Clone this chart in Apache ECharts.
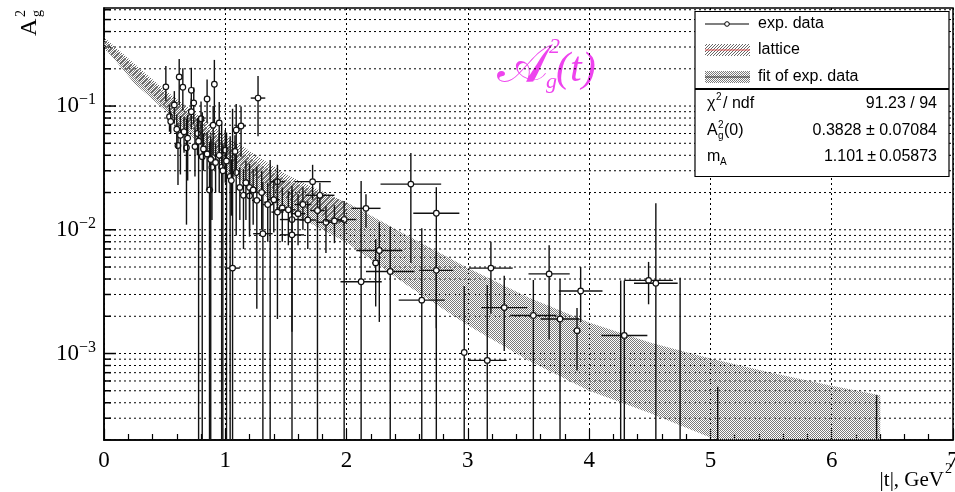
<!DOCTYPE html>
<html>
<head>
<meta charset="utf-8">
<script src="https://cdn.jsdelivr.net/npm/echarts@6/dist/echarts.min.js"></script>
<style>
  html, body { margin: 0; padding: 0; background: #fff; }
  #chart { width: 955px; height: 492px; }
</style>
</head>
<body>
<div id="chart"></div>
<script>
// exp. data: |t|, value, |t| half-width, lower and upper error
const expT = [0.51, 0.62, 0.65, 0.72, 0.91, 0.85, 0.58, 0.74, 0.80, 0.72, 0.90, 0.95, 1.09, 1.13, 0.54, 0.61,
  0.68, 0.77, 0.81, 0.87, 0.89, 1.00, 0.97, 1.04, 1.09, 1.15, 1.20, 1.26, 1.08, 1.27, 1.43, 1.72,
  1.78, 1.76, 1.43, 1.55, 1.31, 1.55, 1.98, 1.37, 1.20, 1.06, 2.16, 2.12, 2.27, 2.24, 2.36, 2.53,
  2.74, 2.74, 2.62, 2.97, 3.16, 3.19, 3.30, 3.54, 3.67, 3.76, 3.93, 3.90, 4.29, 4.26, 4.49, 4.55,
  4.75, 5.06, 6.37, 0.55, 0.60, 0.63, 0.66, 0.69, 0.75, 0.78, 0.82, 0.85, 0.88, 0.92, 0.95, 0.98,
  1.01, 1.05, 1.12, 1.17, 1.23, 1.30, 1.35, 1.40, 1.47, 1.52, 1.60, 1.64, 1.68, 1.83, 1.90]
const expA = [0.143, 0.172, 0.142, 0.134, 0.150, 0.114, 0.102, 0.106, 0.079, 0.090, 0.070, 0.073, 0.064, 0.069, 0.082, 0.048,
  0.046, 0.060, 0.039, 0.021, 0.032, 0.044, 0.032, 0.027, 0.029, 0.019, 0.0188, 0.0173, 0.043, 0.116, 0.0245, 0.0245,
  0.019, 0.0143, 0.0139, 0.0121, 0.0093, 0.0091, 0.0121, 0.0167, 0.022, 0.0049, 0.0149, 0.0038, 0.0068, 0.0054, 0.0046, 0.0234,
  0.0136, 0.0047, 0.0027, 0.00102, 0.00088, 0.0049, 0.00235, 0.00203, 0.0044, 0.0019, 0.0032, 0.00153, 0.0014, -0.0004, 0.0039, 0.0037,
  -0.0005, -0.0002, -0.0002, 0.075, 0.065, 0.058, 0.062, 0.055, 0.047, 0.052, 0.045, 0.041, 0.037, 0.035, 0.040, 0.030,
  0.036, 0.025, 0.022, 0.024, 0.021, 0.020, 0.016, 0.0175, 0.015, 0.0145, 0.0135, 0.016, 0.012, 0.0115, 0.0118]
const expTErr = [0.02, 0.02, 0.02, 0.02, 0.02, 0.02, 0.02, 0.02, 0.02, 0.02, 0.02, 0.02, 0.03, 0.04, 0.02, 0.02,
  0.02, 0.02, 0.02, 0.03, 0.02, 0.02, 0.02, 0.02, 0.02, 0.03, 0.03, 0.04, 0.02, 0.06, 0.06, 0.15,
  0.12, 0.06, 0.05, 0.10, 0.08, 0.10, 0.10, 0.05, 0.03, 0.06, 0.12, 0.17, 0.19, 0.03, 0.20, 0.25,
  0.19, 0.14, 0.19, 0.02, 0.16, 0.18, 0.19, 0.19, 0.17, 0.16, 0.18, 0.03, 0.19, 0, 0.20, 0.18,
  0, 0, 0, 0.02, 0.02, 0.02, 0.02, 0.02, 0.02, 0.02, 0.02, 0.02, 0.02, 0.02, 0.02, 0.02,
  0.02, 0.02, 0.03, 0.03, 0.03, 0.04, 0.04, 0.05, 0.05, 0.06, 0.06, 0.07, 0.07, 0.08, 0.08]
const expAErrLo = [0.033, 0.07, 0.05, 0.057, 0.077, 0.041, 0.03, 0.035, 0.03, 0.025, 0.03, 0.035, 0.035, 0.03, 0.02, 0.025,
  0.035, 0.02, 0.05, 0.03, 0.02, 0.02, 0.04, 0.03, 0.02, 0.012, 0.01, 0.015, 0.015, 0.059, 0.009, 0.007,
  0.005, 0.02, 0.012, 0.0106, 0.015, 0.012, 0.02, 0.02, 0.012, 0.09, 0.0045, 0.021, 0.005, 0.003, 0.007, 0.018,
  0.012, 0.006, 0.006, 0.004, 0.004, 0.0028, 0.0013, 0.004, 0.0031, 0.004, 0.0014, 0.0008, 0.003, 0, 0.0014, 0.008,
  0, 0, 0, 0.015, 0.02, 0.03, 0.02, 0.03, 0.02, 0.06, 0.015, 0.02, 0.04, 0.015, 0.02, 0.04,
  0.05, 0.012, 0.01, 0.012, 0.01, 0.01, 0.008, 0.008, 0.007, 0.007, 0.006, 0.006, 0.005, 0.005, 0.004]
const expAErrHi = [0.068, 0.068, 0.06, 0.07, 0.086, 0.05, 0.03, 0.035, 0.03, 0.025, 0.03, 0.035, 0.04, 0.03, 0.02, 0.025,
  0.033, 0.02, 0.05, 0.03, 0.02, 0.02, 0.04, 0.03, 0.02, 0.012, 0.01, 0.015, 0.015, 0.059, 0.009, 0.009,
  0.005, 0.004, 0.012, 0.0105, 0.015, 0.012, 0.005, 0.02, 0.012, 0.09, 0.0045, 0.021, 0.0047, 0.003, 0.006, 0.0183,
  0.0085, 0.002, 0.0076, 0.0025, 0.0027, 0.0031, 0.0019, 0.0019, 0.0031, 0.0021, 0.0018, 0.0008, 0.0025, 0.0043, 0.0016, 0.0127,
  0.0046, 0.00074, 0.00066, 0.015, 0.02, 0.025, 0.02, 0.03, 0.02, 0.03, 0.015, 0.02, 0.02, 0.015, 0.02, 0.02,
  0.025, 0.012, 0.01, 0.012, 0.01, 0.01, 0.008, 0.008, 0.007, 0.006, 0.006, 0.006, 0.005, 0.004, 0.004]

// bands (lower / upper edge)
const fitT = [0, 0.25, 0.5, 0.75, 1, 1.5, 2, 2.5, 3, 3.5, 4, 4.5, 5, 5.5, 6, 6.4]
const fitHi = [0.345, 0.208, 0.127, 0.08, 0.05, 0.0252, 0.0167, 0.009, 0.0049, 0.00284, 0.00178, 0.00123, 0.00091, 0.0007, 0.00055, 0.00046]
const fitLo = [0.30, 0.153, 0.093, 0.053, 0.030, 0.0144, 0.0079, 0.00356, 0.00169, 0.00088, 0.0005, 0.00033, 0.00021, 0.00015, 0.00011, 0.000085]
const latticeT = [0, 0.5, 1, 1.5, 2]
const latticeHi = [0.36, 0.135, 0.058, 0.028, 0.0165]
const latticeLo = [0.29, 0.10, 0.040, 0.018, 0.0105]

// axis
const yDecades = [1e-4, 1e-3, 1e-2, 1e-1]
const yMinorSteps = [1, 2, 3, 4, 5, 6, 7, 8, 9]
const yMin = 2e-4
const yMax = 0.62

const serif = '"Liberation Serif", "DejaVu Serif", serif'
const sans = '"Liberation Sans", Arial, sans-serif'

// y grid values
const yGrid = []
yDecades.forEach(d => {
  yMinorSteps.forEach(m => {
    const v = d * m
    if (v >= yMin * 0.999 && v <= yMax) yGrid.push([v, m === 1 ? 1 : 0])
  })
})

// dotted fill patterns
const makePattern = (w, h, pts, color) => {
  const c = document.createElement('canvas')
  c.width = w
  c.height = h
  const g = c.getContext('2d')
  g.fillStyle = color
  pts.forEach(p => g.fillRect(p[0], p[1], 1, 1))
  return { image: c, repeat: 'repeat' }
}
const fitPattern = makePattern(2, 2, [[0, 0], [1, 1]], '#7a7a7a')
const latticePattern = makePattern(3, 3, [[0, 0], [2, 1], [1, 2]], '#666')

const bandPolygon = (api, ts, lo, hi) => {
  const pts = []
  for (let i = 0; i < ts.length; i++) pts.push(api.coord([ts[i], hi[i]]))
  for (let i = ts.length - 1; i >= 0; i--) pts.push(api.coord([ts[i], lo[i]]))
  return pts
}

const chart = echarts.init(document.getElementById('chart'))

const option = {
  animation: false,
  grid: {
    left: 104, right: 2, top: 8, bottom: 52,
    outerBoundsMode: 'none', containLabel: false,
    show: true, borderColor: '#000', borderWidth: 1.5, backgroundColor: '#fff'
  },
  xAxis: {
    type: 'value', min: 0, max: 7, interval: 1,
    axisLine: { lineStyle: { color: '#000', width: 1.5 } },
    axisTick: { inside: true, length: 11, lineStyle: { color: '#000', width: 1.2 } },
    minorTick: { show: true, splitNumber: 5, length: 6, lineStyle: { color: '#000', width: 1.2 } },
    splitLine: { show: true, lineStyle: { color: '#000', width: 1, type: [2, 3] } },
    axisLabel: { color: '#000', fontFamily: serif, fontSize: 23, margin: 9 }
  },
  yAxis: {
    type: 'log', logBase: 10, min: yMin, max: yMax,
    axisLine: { lineStyle: { color: '#000', width: 1.5 } },
    axisTick: { show: false },
    splitLine: { show: false },
    axisLabel: {
      color: '#000', margin: 8,
      showMinLabel: false, showMaxLabel: false,
      formatter: v => {
        const e = Math.log10(v)
        if (Math.abs(e - Math.round(e)) > 1e-6) return ''
        return '{b|10}{s|\u2212' + (-Math.round(e)) + '}'
      },
      rich: {
        b: { fontFamily: serif, fontSize: 23, color: '#000' },
        s: { fontFamily: serif, fontSize: 16, color: '#000', verticalAlign: 'top', padding: [0, 0, 12, 0] }
      }
    }
  },
  series: [
    {
      // horizontal grid lines and left ticks
      type: 'custom', z: 1, silent: true, clip: true,
      data: yGrid.map(g => [0, g[0], g[1]]),
      encode: { x: 0, y: 1 },
      renderItem: (params, api) => {
        const cs = params.coordSys
        const p = api.coord([0, api.value(1)])
        const major = api.value(2) === 1
        return {
          type: 'group',
          children: [
            { type: 'line', shape: { x1: cs.x, y1: p[1], x2: cs.x + cs.width, y2: p[1] },
              style: { stroke: '#000', lineWidth: 1, lineDash: [2, 3] } },
            { type: 'line', shape: { x1: cs.x, y1: p[1], x2: cs.x + (major ? 12 : 7), y2: p[1] },
              style: { stroke: '#000', lineWidth: 1.5 } }
          ]
        }
      }
    },
    {
      name: 'lattice', type: 'custom', z: 2, silent: true, clip: true,
      data: [[latticeT[0], latticeHi[0]]],
      encode: { x: 0, y: 1 },
      renderItem: (params, api) => ({
        type: 'polygon',
        shape: { points: bandPolygon(api, latticeT, latticeLo, latticeHi) },
        style: { fill: latticePattern, stroke: null }
      })
    },
    {
      name: 'fit of exp. data', type: 'custom', z: 3, silent: true, clip: true,
      data: [[fitT[0], fitHi[0]]],
      encode: { x: 0, y: 1 },
      renderItem: (params, api) => ({
        type: 'polygon',
        shape: { points: bandPolygon(api, fitT, fitLo, fitHi) },
        style: { fill: fitPattern, stroke: null }
      })
    },
    {
      name: 'exp. data', type: 'custom', z: 4, silent: true, clip: true,
      data: expT.map((t, i) => [t, expA[i] > 0 ? expA[i] : yMin, expTErr[i], expAErrLo[i], expAErrHi[i], expA[i]]),
      encode: { x: 0, y: 1 },
      renderItem: (params, api) => {
        const t = api.value(0)
        const a = api.value(5)
        const ex = api.value(2)
        const lo = a - api.value(3)
        const hi = a + api.value(4)
        const top = api.coord([t, hi])
        const bot = api.coord([t, lo > 0 ? lo : 1e-6])
        const children = [
          { type: 'line', shape: { x1: top[0], y1: top[1], x2: bot[0], y2: bot[1] },
            style: { stroke: '#111', lineWidth: 1.4 } }
        ]
        if (a > 0) {
          const c = api.coord([t, a])
          const l = api.coord([t - ex, a])
          const r = api.coord([t + ex, a])
          children.push({ type: 'line', shape: { x1: l[0], y1: c[1], x2: r[0], y2: c[1] },
            style: { stroke: '#111', lineWidth: 1.4 } })
          children.push({ type: 'circle', shape: { cx: c[0], cy: c[1], r: 2.8 },
            style: { fill: '#fff', stroke: '#111', lineWidth: 1.2 } })
        }
        return { type: 'group', children }
      }
    }
  ],
  graphic: [
    // y axis title
    {
      type: 'group', x: 30, y: 36, rotation: Math.PI / 2, silent: true,
      children: [
        { type: 'text', x: 0, y: 0, style: { text: 'A', font: '24px ' + serif, fill: '#000', textVerticalAlign: 'middle' } },
        { type: 'text', x: 19, y: -9, style: { text: '2', font: '14px ' + serif, fill: '#000', textVerticalAlign: 'middle' } },
        { type: 'text', x: 19, y: 7, style: { text: 'g', font: '14px ' + serif, fill: '#000', textVerticalAlign: 'middle' } }
      ]
    },
    // x axis title
    { type: 'text', x: 944, y: 480, silent: true,
      style: { text: '|t|, GeV', font: '21px ' + serif, fill: '#000', textAlign: 'right', textVerticalAlign: 'middle' } },
    { type: 'text', x: 945, y: 469, silent: true,
      style: { text: '2', font: '14px ' + serif, fill: '#000', textVerticalAlign: 'middle' } },
    // formula
    { type: 'text', x: 497, y: 68, silent: true,
      style: { text: '\uD835\uDC9C', font: '54px "DejaVu Serif", serif', fill: '#ee44ee', textVerticalAlign: 'middle' } },
    { type: 'text', x: 549, y: 47, silent: true,
      style: { text: '2', font: 'italic 22px ' + serif, fill: '#ee44ee', textVerticalAlign: 'middle' } },
    { type: 'text', x: 546, y: 82, silent: true,
      style: { text: 'g', font: 'italic 22px ' + serif, fill: '#ee44ee', textVerticalAlign: 'middle' } },
    { type: 'text', x: 556, y: 70, silent: true,
      style: { text: '(t)', font: 'italic 42px ' + serif, fill: '#ee44ee', textVerticalAlign: 'middle' } },
    // legend box
    { type: 'rect', shape: { x: 695, y: 11.5, width: 254, height: 77 },
      style: { fill: '#fff', stroke: '#000', lineWidth: 1.2 }, z: 100 },
    { type: 'line', shape: { x1: 705, y1: 24, x2: 749, y2: 24 }, style: { stroke: '#000', lineWidth: 1.2 }, z: 101 },
    { type: 'circle', shape: { cx: 727, cy: 24, r: 2.3 }, style: { fill: '#fff', stroke: '#000', lineWidth: 1 }, z: 102 },
    { type: 'rect', shape: { x: 705, y: 44, width: 45, height: 12 }, style: { fill: latticePattern }, z: 101 },
    { type: 'line', shape: { x1: 705, y1: 50, x2: 750, y2: 50 }, style: { stroke: '#e05050', lineWidth: 1 }, z: 102 },
    { type: 'rect', shape: { x: 705, y: 71, width: 45, height: 12 }, style: { fill: fitPattern }, z: 101 },
    { type: 'line', shape: { x1: 705, y1: 77, x2: 750, y2: 77 }, style: { stroke: '#333', lineWidth: 1 }, z: 102 },
    { type: 'text', x: 758, y: 24, z: 101, style: { text: 'exp. data', font: '16px ' + sans, fill: '#000', textVerticalAlign: 'middle' } },
    { type: 'text', x: 758, y: 50, z: 101, style: { text: 'lattice', font: '16px ' + sans, fill: '#000', textVerticalAlign: 'middle' } },
    { type: 'text', x: 758, y: 77, z: 101, style: { text: 'fit of exp. data', font: '16px ' + sans, fill: '#000', textVerticalAlign: 'middle' } },
    // stats box
    { type: 'rect', shape: { x: 695, y: 89.5, width: 254, height: 87 },
      style: { fill: '#fff', stroke: '#000', lineWidth: 1.2 }, z: 100 },
    { type: 'text', x: 707, y: 104, z: 101, style: { text: '\u03C7', font: '16px ' + sans, fill: '#000', textVerticalAlign: 'middle' } },
    { type: 'text', x: 716, y: 97, z: 101, style: { text: '2', font: '10px ' + sans, fill: '#000', textVerticalAlign: 'middle' } },
    { type: 'text', x: 723, y: 104, z: 101, style: { text: '/ ndf', font: '16px ' + sans, fill: '#000', textVerticalAlign: 'middle' } },
    { type: 'text', x: 937, y: 104, z: 101, style: { text: '91.23 / 94', font: '16px ' + sans, fill: '#000', textAlign: 'right', textVerticalAlign: 'middle' } },
    { type: 'text', x: 707, y: 131, z: 101, style: { text: 'A', font: '16px ' + sans, fill: '#000', textVerticalAlign: 'middle' } },
    { type: 'text', x: 718, y: 125, z: 101, style: { text: '2', font: '10px ' + sans, fill: '#000', textVerticalAlign: 'middle' } },
    { type: 'text', x: 718, y: 136, z: 101, style: { text: 'g', font: '10px ' + sans, fill: '#000', textVerticalAlign: 'middle' } },
    { type: 'text', x: 724, y: 131, z: 101, style: { text: '(0)', font: '16px ' + sans, fill: '#000', textVerticalAlign: 'middle' } },
    { type: 'text', x: 937, y: 131, z: 101, style: { text: '0.3828 \u00B1 0.07084', font: '16px ' + sans, fill: '#000', textAlign: 'right', textVerticalAlign: 'middle' } },
    { type: 'text', x: 707, y: 157, z: 101, style: { text: 'm', font: '16px ' + sans, fill: '#000', textVerticalAlign: 'middle' } },
    { type: 'text', x: 720, y: 162, z: 101, style: { text: 'A', font: '10px ' + sans, fill: '#000', textVerticalAlign: 'middle' } },
    { type: 'text', x: 937, y: 157, z: 101, style: { text: '1.101\u2009\u00B1\u20090.05873', font: '16px ' + sans, fill: '#000', textAlign: 'right', textVerticalAlign: 'middle' } }
  ]
}

chart.setOption(option)
</script>
</body>
</html>
